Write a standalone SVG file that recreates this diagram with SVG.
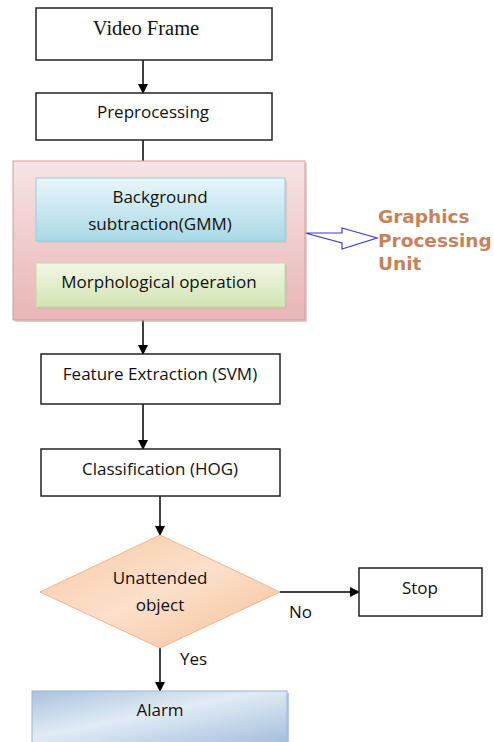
<svg xmlns="http://www.w3.org/2000/svg" width="494" height="742" viewBox="0 0 494 742">
<defs>
<style>
.box{fill:#fff;stroke:#222;stroke-width:1.5}
.t{font-family:"Open Sans","Liberation Sans",Arial,sans-serif;font-size:17px;fill:#111;text-anchor:middle}
.con{stroke:#000;stroke-width:1.5;fill:none}
.gpu{font-family:"DejaVu Sans",Verdana,sans-serif;font-size:18.5px;font-weight:bold;fill:#c8825a}
</style>
<marker id="ah" markerWidth="10" markerHeight="10" refX="9" refY="5" orient="auto" markerUnits="userSpaceOnUse">
<path d="M0,0 L10,5 L0,10 Z" fill="#000"/>
</marker>
<linearGradient id="pink" x1="0" y1="0" x2="0" y2="1">
<stop offset="0" stop-color="#f7e4e4"/><stop offset="1" stop-color="#e8b5b5"/>
</linearGradient>
<linearGradient id="blue" x1="0" y1="0" x2="0" y2="1">
<stop offset="0" stop-color="#e9f6fa"/><stop offset="1" stop-color="#a9d8e6"/>
</linearGradient>
<linearGradient id="green" x1="0" y1="0" x2="0" y2="1">
<stop offset="0" stop-color="#f2f7e6"/><stop offset="1" stop-color="#d2e3b3"/>
</linearGradient>
<linearGradient id="orange" x1="0" y1="0" x2="1" y2="1">
<stop offset="0" stop-color="#f8c9a3"/><stop offset="0.5" stop-color="#fbe0cc"/><stop offset="1" stop-color="#f6bf95"/>
</linearGradient>
<linearGradient id="alarm" x1="0" y1="0" x2="1" y2="1">
<stop offset="0" stop-color="#a9c2de"/><stop offset="0.45" stop-color="#e2ebf5"/><stop offset="1" stop-color="#a5bedc"/>
</linearGradient>
</defs>

<g id="connectors">
<line class="con" x1="143" y1="60" x2="143" y2="93" marker-end="url(#ah)"/>
<line class="con" x1="143" y1="140" x2="143" y2="178" marker-end="url(#ah)"/>
<line class="con" x1="143" y1="241" x2="143" y2="263" marker-end="url(#ah)"/>
<line class="con" x1="143" y1="307" x2="143" y2="354" marker-end="url(#ah)"/>
<line class="con" x1="143" y1="404" x2="143" y2="449" marker-end="url(#ah)"/>
<line class="con" x1="160" y1="496" x2="160" y2="535" marker-end="url(#ah)"/>
<line class="con" x1="280" y1="592" x2="359" y2="592" marker-end="url(#ah)"/>
<line class="con" x1="160" y1="648" x2="160" y2="691" marker-end="url(#ah)"/>
<path d="M305,233 L342,233 L342,228 L377,238 L342,249 L342,243 Z" fill="#fff" stroke="#3a3ad8" stroke-width="1.2"/>
<text x="289" y="618" class="t" style="text-anchor:start">No</text>
<text x="180" y="665" class="t" style="text-anchor:start">Yes</text>
</g>

<g id="video-frame">
<rect class="box" x="36" y="8" width="236" height="52"/>
<text x="146" y="35" style="font-family:'Liberation Serif','Times New Roman',serif;font-size:20.5px;fill:#111;text-anchor:middle">Video Frame</text>
</g>

<g id="preprocessing">
<rect class="box" x="36" y="93" width="236" height="47"/>
<text x="153" y="118" class="t">Preprocessing</text>
</g>

<g id="gpu-group">
<rect x="15" y="163" width="292" height="159" fill="#c9a0a0" opacity="0.5"/>
<rect x="13" y="161" width="292" height="159" fill="url(#pink)" stroke="#d49c9c" stroke-width="1"/>
</g>

<g id="background-subtraction">
<rect x="38" y="180" width="249" height="63" fill="#b8c8cc" opacity="0.6"/>
<rect x="36" y="178" width="249" height="63" fill="url(#blue)" stroke="#9ccbdb" stroke-width="1"/>
<text x="160" y="203" class="t">Background</text>
<text x="160" y="230" class="t">subtraction(GMM)</text>
</g>

<g id="morphological">
<rect x="38" y="265" width="249" height="44" fill="#b8c0a8" opacity="0.6"/>
<rect x="36" y="263" width="249" height="44" fill="url(#green)" stroke="#c5d6a6" stroke-width="1"/>
<text x="159" y="288" class="t">Morphological  operation</text>
</g>

<g id="gpu-label">
<text x="378" y="223" class="gpu">Graphics</text>
<text x="378" y="247" class="gpu">Processing</text>
<text x="378" y="270" class="gpu">Unit</text>
</g>

<g id="feature-extraction">
<rect class="box" x="41" y="354" width="239" height="50"/>
<text x="160" y="380" class="t">Feature Extraction  (SVM)</text>
</g>

<g id="classification">
<rect class="box" x="41" y="449" width="239" height="47"/>
<text x="160" y="475" class="t">Classification (HOG)</text>
</g>

<g id="unattended-object">
<polygon points="160,535 280,592 160,648 40,592" fill="url(#orange)" stroke="#f2b58a" stroke-width="1"/>
<text x="160" y="584" class="t">Unattended</text>
<text x="160" y="611" class="t">object</text>
</g>

<g id="stop">
<rect class="box" x="359" y="568" width="123" height="48"/>
<text x="420" y="594" class="t">Stop</text>
</g>

<g id="alarm-node">
<rect x="34" y="693" width="255" height="52" fill="#8fa6c4" opacity="0.6"/>
<rect x="32" y="691" width="255" height="52" fill="url(#alarm)" stroke="#9ab4d4" stroke-width="1"/>
<text x="160" y="716" class="t">Alarm</text>
</g>
</svg>
